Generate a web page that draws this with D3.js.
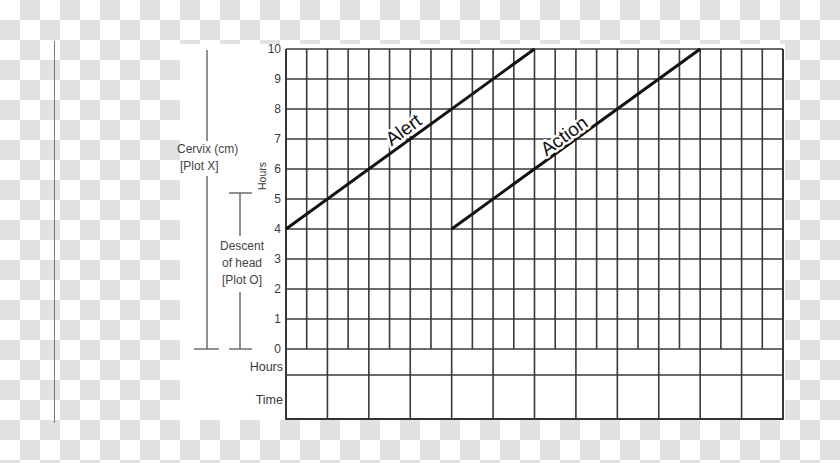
<!DOCTYPE html>
<html>
<head>
<meta charset="utf-8">
<script src="https://cdn.jsdelivr.net/npm/d3@7"></script>
<style>
  html, body { margin: 0; padding: 0; background: #fff; }
  svg { display: block; }
  text { font-family: "Liberation Sans", Arial, sans-serif; }
</style>
</head>
<body>
<svg id="chart" width="840" height="463"></svg>
<script>
// ---- data ----
const hours = d3.range(0, 13);                 // 0..12 hours
const halfHours = d3.range(0, 12.5, 0.5);      // grid columns
const cervixTicks = d3.range(0, 11);           // 0..10 cm
const alertLine = [[0, 4], [6, 10]];
const actionLine = [[4, 4], [10, 10]];
const lineLabels = ["Alert", "Action"];
const rowLabels = ["Hours", "Time"];

const svg = d3.select("#chart");
const W = 840, H = 463;

// checkerboard background (transparency pattern)
const cells = [];
for (let i = 0; i < Math.ceil(W / 20); i++)
  for (let j = 0; j < Math.ceil(H / 20); j++)
    if ((i + j) % 2 === 1) cells.push({ i: i, j: j });
svg.append("rect").attr("width", W).attr("height", H).attr("fill", "#ffffff");
const bg = svg.append("g").attr("class", "checker");
cells.forEach(c => {
  bg.append("rect").attr("x", c.i * 20).attr("y", c.j * 20)
    .attr("width", 20).attr("height", 20).attr("fill", "#e2e2e2");
});

// white image area
svg.append("rect").attr("x", 180).attr("y", 44).attr("width", 605).attr("height", 376).attr("fill", "#ffffff");

// stray left vertical line
svg.append("line").attr("x1", 54.5).attr("x2", 54.5).attr("y1", 41).attr("y2", 423)
  .attr("stroke", "#777").attr("stroke-width", 1);

// scales
const x = d3.scaleLinear().domain([0, 12]).range([286, 783]);
const y = d3.scaleLinear().domain([0, 10]).range([349, 49]);
const hoursRowBottom = 375, timeRowBottom = 419;

const gridColor = "#3a3a3a";
const g = svg.append("g");

// horizontal grid lines in plot area
g.selectAll("line.h").data(cervixTicks).join("line")
  .attr("x1", x(0)).attr("x2", x(12))
  .attr("y1", d => y(d)).attr("y2", d => y(d))
  .attr("stroke", gridColor).attr("stroke-width", 1.6);

// vertical half-hour grid lines in plot area
g.selectAll("line.v").data(halfHours).join("line")
  .attr("x1", d => x(d)).attr("x2", d => x(d))
  .attr("y1", y(10)).attr("y2", y(0))
  .attr("stroke", gridColor).attr("stroke-width", 1.6);

// hour/time rows
[hoursRowBottom, timeRowBottom].forEach(yy => {
  g.append("line").attr("x1", x(0)).attr("x2", x(12)).attr("y1", yy).attr("y2", yy)
    .attr("stroke", gridColor).attr("stroke-width", 1.6);
});
g.selectAll("line.hr").data(hours).join("line")
  .attr("x1", d => x(d)).attr("x2", d => x(d))
  .attr("y1", y(0)).attr("y2", timeRowBottom)
  .attr("stroke", gridColor).attr("stroke-width", 1.6);

// y tick labels
const labG = svg.append("g").attr("fill", "#3a3a3a").attr("font-size", 12);
labG.selectAll("text.yt").data(cervixTicks).join("text")
  .attr("x", 281).attr("y", d => y(d)).attr("dy", "0.35em")
  .attr("text-anchor", "end").text(d => d);
labG.append("text").attr("x", 283).attr("y", 367).attr("dy", "0.35em")
  .attr("text-anchor", "end").attr("font-size", 12.5).text(rowLabels[0]);
labG.append("text").attr("x", 283).attr("y", 400).attr("dy", "0.35em")
  .attr("text-anchor", "end").attr("font-size", 12.5).text(rowLabels[1]);

// rotated "Hours"
labG.append("text").attr("transform", "translate(262,176) rotate(-90)")
  .attr("dy", "0.35em").attr("text-anchor", "middle").attr("font-size", 10.5).text("Hours");

// left bracket annotations
const ann = svg.append("g").attr("stroke", "#555").attr("stroke-width", 1.3);
ann.append("line").attr("x1", 207).attr("x2", 207).attr("y1", 50).attr("y2", 141);
ann.append("line").attr("x1", 207).attr("x2", 207).attr("y1", 176).attr("y2", 349);
ann.append("line").attr("x1", 194).attr("x2", 219).attr("y1", 349).attr("y2", 349);
ann.append("line").attr("x1", 240).attr("x2", 240).attr("y1", 193).attr("y2", 236);
ann.append("line").attr("x1", 229).attr("x2", 252).attr("y1", 193).attr("y2", 193);
ann.append("line").attr("x1", 240).attr("x2", 240).attr("y1", 292).attr("y2", 349);
ann.append("line").attr("x1", 229).attr("x2", 252).attr("y1", 349).attr("y2", 349);

const annT = svg.append("g").attr("fill", "#444").attr("font-size", 12);
annT.append("text").attr("x", 177).attr("y", 149).attr("dy", "0.35em").text("Cervix (cm)");
annT.append("text").attr("x", 180).attr("y", 166).attr("dy", "0.35em").text("[Plot X]");
annT.append("text").attr("x", 242).attr("y", 246).attr("dy", "0.35em").attr("text-anchor", "middle").text("Descent");
annT.append("text").attr("x", 242).attr("y", 263).attr("dy", "0.35em").attr("text-anchor", "middle").text("of head");
annT.append("text").attr("x", 242).attr("y", 280).attr("dy", "0.35em").attr("text-anchor", "middle").text("[Plot O]");

// frame
svg.append("path")
  .attr("d", `M${x(0)},${y(10)} V${timeRowBottom} H${x(12)} V${y(10)}`)
  .attr("fill", "none").attr("stroke", "#333").attr("stroke-width", 1.8);

// alert / action lines
const line = d3.line().x(d => x(d[0])).y(d => y(d[1]));
svg.append("path").datum(alertLine).attr("d", line)
  .attr("fill", "none").attr("stroke", "#111").attr("stroke-width", 3);
svg.append("path").datum(actionLine).attr("d", line)
  .attr("fill", "none").attr("stroke", "#111").attr("stroke-width", 3);

// labels along lines
const angle = -Math.atan((y(4) - y(10)) / (x(6) - x(0))) * 180 / Math.PI;
function lineLabel(txt, hx, hy, off) {
  svg.append("text")
    .attr("transform", `translate(${x(hx)},${y(hy)}) rotate(${angle})`)
    .attr("y", -off).attr("text-anchor", "middle")
    .attr("font-size", 19).attr("fill", "#111")
    .attr("stroke", "#fff").attr("stroke-width", 5).attr("paint-order", "stroke")
    .attr("stroke-linejoin", "round")
    .text(txt);
}
lineLabel(lineLabels[0], 3.0, 7.0, 5);
lineLabel(lineLabels[1], 6.85, 6.85, 3);
</script>
</body>
</html>
